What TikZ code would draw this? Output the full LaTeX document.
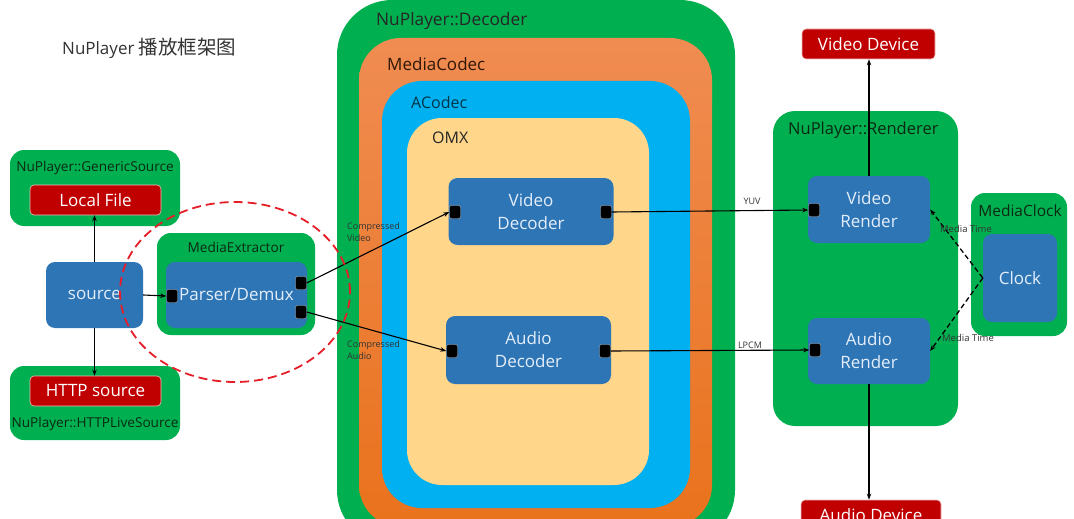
\documentclass[tikz,border=0pt]{standalone}
\usepackage{fontspec}
\setmainfont{Open Sans}
\newfontfamily\cjk{Noto Sans CJK SC}
\usetikzlibrary{arrows.meta,shapes.geometric}
\definecolor{gr}{RGB}{0,176,80}
\definecolor{bl}{RGB}{46,117,182}
\definecolor{rd}{RGB}{192,0,0}
\definecolor{orT}{RGB}{240,140,82}
\definecolor{orB}{RGB}{233,114,28}
\definecolor{lb}{RGB}{0,176,240}
\definecolor{omx}{RGB}{255,214,138}
\definecolor{gtxt}{RGB}{12,40,18}
\definecolor{btxt}{RGB}{228,238,250}
\definecolor{dashred}{RGB}{230,30,40}
\newcommand\fsz[2]{\fontsize{#1}{#2}\selectfont}
\tikzset{
  cont/.style={rectangle, inner sep=0pt},
  greenbox/.style={cont, fill=gr, rounded corners=14pt},
  bluebox/.style={cont, fill=bl, rounded corners=9pt, text=btxt, align=center, font=\fsz{17}{23}},
  redbox/.style={cont, fill=rd, draw=white!75!rd, line width=0.6pt, rounded corners=4pt, text=white, font=\fsz{17}{20}},
  glabel/.style={inner sep=0pt, text=gtxt, font=\fsz{13.6}{16}},
  port/.style={rectangle, fill=black, draw=gray!60, line width=0.4pt, minimum width=11pt, minimum height=13pt, rounded corners=2pt, inner sep=0pt},
  arr/.style={draw=black, line width=1.1pt, -{Stealth[length=6pt,width=4.5pt]}},
  darr/.style={draw=black, line width=1.3pt, dash pattern=on 5pt off 3pt, -{Stealth[length=6pt,width=4.5pt]}},
  small/.style={inner sep=0pt, text=black!80, font=\fsz{9}{12}, align=left},
}
\begin{document}
\begin{tikzpicture}[x=1pt,y=-1pt]
\useasboundingbox (0,0) rectangle (1074,519);
\clip (0,0) rectangle (1074,519);
\fill[white] (0,0) rectangle (1074,519);

% title
\node[anchor=west, inner sep=0pt, text=black!80, font=\fsz{17}{20}] (title) at (62,48) {NuPlayer {\cjk\fontsize{19.5}{22}\selectfont 播放框架图}};

% sources
\node[greenbox, minimum width=170pt, minimum height=76pt] (gs) at (95,188) {};
\node[glabel] (gsl) at (95,168) {NuPlayer::GenericSource};
\node[redbox, minimum width=131pt, minimum height=30pt] (lf) at (95.5,200) {Local File};

\node[greenbox, minimum width=170pt, minimum height=74pt] (hls) at (95,403) {};
\node[glabel] (hlsl) at (95,424) {NuPlayer::HTTPLiveSource};
\node[redbox, minimum width=131pt, minimum height=30pt] (hs) at (95.5,391) {HTTP source};

\node[bluebox, minimum width=97pt, minimum height=66pt] (src) at (94.5,295) {source};

% media extractor
\node[greenbox, minimum width=158pt, minimum height=102pt] (me) at (236,284) {};
\node[glabel] (mel) at (236,247) {MediaExtractor};
\node[bluebox, minimum width=141pt, minimum height=66pt] (pd) at (236.5,295) {Parser/Demux};

% decoder nest
\node[cont, fill=gr, rounded corners=55pt, minimum width=398pt, minimum height=545pt] (dec) at (536,272.5) {};
\node[cont, top color=orT, bottom color=orB, rounded corners=42pt, minimum width=353pt, minimum height=489pt] (mc) at (535.5,282.5) {};
\node[cont, fill=lb, rounded corners=40pt, minimum width=308pt, minimum height=427pt] (ac) at (536,294.5) {};
\node[cont, fill=omx, rounded corners=35pt, minimum width=242pt, minimum height=367pt] (omx) at (528,301.5) {};
\node[anchor=west, inner sep=0pt, text=black!85, font=\fsz{17.3}{20}] (decl) at (376,21) {NuPlayer::Decoder};
\node[anchor=west, inner sep=0pt, text=black!80!orB, font=\fsz{17}{20}] (mcl) at (387,64) {MediaCodec};
\node[anchor=west, inner sep=0pt, text=black!70!lb, font=\fsz{16}{19}] (acl) at (411,102) {ACodec};
\node[anchor=west, inner sep=0pt, text=black!85, font=\fsz{16}{19}] (omxl) at (432,138) {OMX};

\node[bluebox, minimum width=165pt, minimum height=67pt] (vdec) at (531,211.5) {Video\\Decoder};
\node[bluebox, minimum width=165pt, minimum height=68pt] (adec) at (528.5,350) {Audio\\Decoder};

% renderer
\node[greenbox, rounded corners=22pt, minimum width=185pt, minimum height=315pt] (ren) at (865.5,268.5) {};
\node[anchor=west, inner sep=0pt, text=gtxt, font=\fsz{16.5}{19}] (renl) at (788,130) {NuPlayer::Renderer};
\node[bluebox, minimum width=122pt, minimum height=67pt] (vr) at (869,209.5) {Video\\Render};
\node[bluebox, minimum width=122pt, minimum height=66pt] (ar) at (869,351) {Audio\\Render};

% media clock
\node[greenbox, minimum width=96pt, minimum height=143pt] (mclk) at (1019,264.5) {};
\node[inner sep=0pt, text=gtxt, font=\fsz{15.5}{18}] (mclkl) at (1020,211) {MediaClock};
\node[bluebox, minimum width=74pt, minimum height=88pt] (clk) at (1020,278) {Clock};

% devices
\node[redbox, minimum width=133pt, minimum height=30pt] (vdev) at (868.5,44) {Video Device};
\node[redbox, minimum width=140pt, minimum height=30pt] (adev) at (871,515) {Audio Device};

% ports
\node[port] (pdin) at (172,296) {};
\node[port] (pdo1) at (301,283) {};
\node[port] (pdo2) at (301,312) {};
\node[port] (vdi) at (455,212) {};
\node[port] (vdo) at (606,212) {};
\node[port] (adi) at (452,351) {};
\node[port] (ado) at (605,351) {};
\node[port] (vri) at (814,210) {};
\node[port] (ari) at (815,350) {};

% connectors
\draw[arr] (src.north) -- (src.north |- lf.south);
\draw[arr] (src.south) -- (src.south |- hs.north);
\draw[arr] (src.east) -- (pdin.west);
\draw[arr] (pdo1.east) -- (vdi.west);
\draw[arr] (pdo2.east) -- (adi.west);
\draw[arr] (vdo.east) -- (vri.west);
\draw[arr] (ado.east) -- (ari.west);
\draw[arr] (vr.north) -- (vr.north |- vdev.south);
\draw[arr] (ar.south) -- (ar.south |- adev.north);
\draw[darr] (clk.west) -- (vr.east);
\draw[darr] (clk.west) -- (ar.east);

% connector labels
\node[small, anchor=west] (cv) at (347,232) {Compressed\\Video};
\node[small, anchor=west] (ca) at (347,350) {Compressed\\Audio};
\node[small] (yuv) at (752,201) {YUV};
\node[small] (lpcm) at (750,345) {LPCM};
\node[small, font=\fsz{9.5}{11}] (mt1) at (966,229) {Media Time};
\node[small, font=\fsz{9.5}{11}] (mt2) at (968,338) {Media Time};

% red dashed ellipse
\node[ellipse, draw=dashred, line width=1.8pt, dash pattern=on 9pt off 5pt, minimum width=230pt, minimum height=180pt, inner sep=0pt] (circ) at (235,292) {};
\end{tikzpicture}
\end{document}
